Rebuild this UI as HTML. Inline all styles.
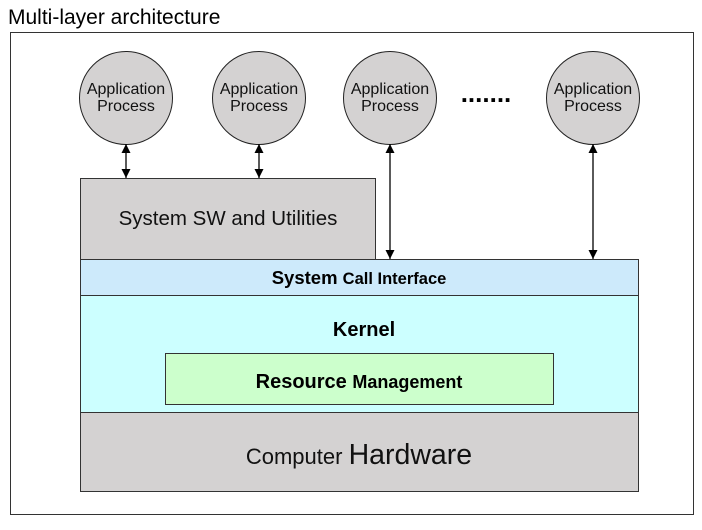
<!DOCTYPE html>
<html><head><style>body{margin:0;background:#fff}</style></head><body>
<svg width="702" height="525" xmlns="http://www.w3.org/2000/svg" font-family="Liberation Sans, sans-serif">
<defs><marker id="a" viewBox="0 0 10 10" refX="10" refY="5" markerWidth="7" markerHeight="7" orient="auto-start-reverse"><path d="M0,0L10,5L0,10z" fill="#000"/></marker></defs>
<text x="8" y="24" font-size="21" fill="#000">Multi-layer architecture</text>
<rect x="10.5" y="32.5" width="683" height="482" fill="#fff" stroke="#333"/>
<g fill="#d4d2d2" stroke="#222" stroke-width="1">
<circle cx="126" cy="98" r="46.5"/><circle cx="259" cy="98" r="46.5"/><circle cx="390" cy="98" r="46.5"/><circle cx="593" cy="98" r="46.5"/>
</g>
<g font-size="16" text-anchor="middle" fill="#111">
<text x="126" y="94">Application</text><text x="126" y="111">Process</text>
<text x="259" y="94">Application</text><text x="259" y="111">Process</text>
<text x="390" y="94">Application</text><text x="390" y="111">Process</text>
<text x="593" y="94">Application</text><text x="593" y="111">Process</text>
</g>
<text x="486" y="102" font-size="26" font-weight="bold" text-anchor="middle">.......</text>
<g stroke="#000" stroke-width="1.3" marker-start="url(#a)" marker-end="url(#a)">
<line x1="126" y1="144" x2="126" y2="178"/><line x1="259" y1="144" x2="259" y2="178"/>
<line x1="390" y1="144" x2="390" y2="259"/><line x1="593" y1="144" x2="593" y2="259"/>
</g>
<rect x="80.5" y="178.5" width="295" height="81" fill="#d4d2d2" stroke="#333"/>
<text x="228" y="225" font-size="20.5" text-anchor="middle" fill="#111">System SW and Utilities</text>
<rect x="80.5" y="259.5" width="558" height="36" fill="#cdeafb" stroke="#333"/>
<text x="359" y="284" font-size="18.5" font-weight="bold" text-anchor="middle">System <tspan font-size="16.5">Call Interface</tspan></text>
<rect x="80.5" y="295.5" width="558" height="117" fill="#ccffff" stroke="#333"/>
<text x="364" y="336" font-size="20" font-weight="bold" text-anchor="middle">Kernel</text>
<rect x="165.5" y="353.5" width="388" height="51" fill="#ccffcc" stroke="#333"/>
<text x="359" y="388" font-size="20" font-weight="bold" text-anchor="middle">Resource <tspan font-size="18">Management</tspan></text>
<rect x="80.5" y="412.5" width="558" height="79" fill="#d4d2d2" stroke="#333"/>
<text x="359" y="464" font-size="22" text-anchor="middle" fill="#111">Computer <tspan font-size="28.5">Hardware</tspan></text>
</svg>
</body></html>
